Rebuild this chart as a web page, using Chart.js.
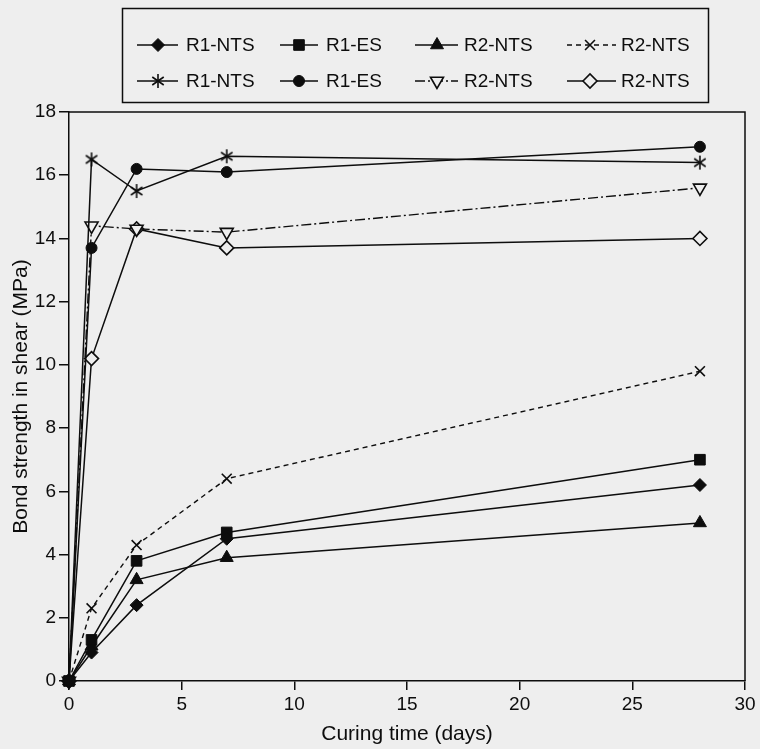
<!DOCTYPE html>
<html>
<head>
<meta charset="utf-8">
<script src="https://cdn.jsdelivr.net/npm/chart.js@4.4.1/dist/chart.umd.min.js"></script>
<style>
  html, body { margin: 0; padding: 0; background: #eeeeee; }
  #wrap { width: 760px; height: 749px; position: relative; }
  canvas { display: block; }
</style>
</head>
<body>
<div id="wrap"><canvas id="c" width="760" height="749" style="width:760px;height:749px"></canvas></div>
<script>
// ---- data ----
const days = [0, 1, 3, 7, 28];
const r1ntsFilledDiamond = [0, 0.9, 2.4, 4.5, 6.2];
const r1esFilledSquare   = [0, 1.3, 3.8, 4.7, 7.0];
const r2ntsFilledTriangle = [0, 1.1, 3.2, 3.9, 5.0];
const r2ntsDashedCross   = [0, 2.3, 4.3, 6.4, 9.8];
const r1ntsStar          = [0, 16.5, 15.5, 16.6, 16.4];
const r1esCircle         = [0, 13.7, 16.2, 16.1, 16.9];
const r2ntsOpenTriangle  = [0, 14.4, 14.3, 14.2, 15.6];
const r2ntsOpenDiamond   = [0, 10.2, 14.3, 13.7, 14.0];
const seriesLabels = ['R1-NTS', 'R1-ES', 'R2-NTS', 'R2-NTS', 'R1-NTS', 'R1-ES', 'R2-NTS', 'R2-NTS'];
const xTickStep = 5, xMin = 0, xMax = 30;
const yTickStep = 2, yMin = 0, yMax = 18;
const xTitle = 'Curing time (days)';
const yTitle = 'Bond strength in shear (MPa)';

// ---- styling ----
const INK = '#0d0d0d';
const PAPER = '#eeeeee';
const FONT = "'Liberation Sans', Arial, Helvetica, sans-serif";

function makeAsterisk(size, lw) {
  const cv = document.createElement('canvas');
  cv.width = size; cv.height = size;
  const g = cv.getContext('2d');
  g.strokeStyle = INK; g.lineWidth = lw; g.lineCap = 'butt';
  const c = size / 2, r = size / 2 - 1;
  [90, 35, 145].forEach(a => {
    const t = a * Math.PI / 180;
    g.beginPath();
    g.moveTo(c - Math.cos(t) * r, c - Math.sin(t) * r);
    g.lineTo(c + Math.cos(t) * r, c + Math.sin(t) * r);
    g.stroke();
  });
  return cv;
}
const asterisk = makeAsterisk(16, 1.6);

function pts(vals) { return days.map((d, i) => ({ x: d, y: vals[i] })); }

function ds(label, vals, o) {
  return Object.assign({
    label: label,
    data: pts(vals),
    borderColor: INK,
    backgroundColor: INK,
    borderWidth: 1.5,
    borderDash: [],
    tension: 0,
    fill: false,
    clip: false,
    pointBackgroundColor: INK,
    pointBorderColor: INK,
    pointBorderWidth: 1,
    pointRadius: 6,
    pointHoverRadius: 6,
    pointRotation: 0
  }, o);
}

const datasets = [
  ds(seriesLabels[0], r1ntsFilledDiamond, { pointStyle: 'rectRot', pointRadius: 6.5 }),
  ds(seriesLabels[1], r1esFilledSquare, { pointStyle: 'rect', pointRadius: 7.5 }),
  ds(seriesLabels[2], r2ntsFilledTriangle, { pointStyle: 'triangle', pointRadius: 7.5 }),
  ds(seriesLabels[3], r2ntsDashedCross, { pointStyle: 'crossRot', pointRadius: 7, pointBorderWidth: 1.6, borderDash: [5, 4], borderWidth: 1.4 }),
  ds(seriesLabels[4], r1ntsStar, { pointStyle: asterisk, pointRadius: 8 }),
  ds(seriesLabels[5], r1esCircle, { pointStyle: 'circle', pointRadius: 5.5 }),
  ds(seriesLabels[6], r2ntsOpenTriangle, { pointStyle: 'triangle', pointRotation: 180, pointRadius: 7.5, pointBackgroundColor: PAPER, pointBorderWidth: 1.6, borderDash: [10, 3, 2, 3], borderWidth: 1.4 }),
  ds(seriesLabels[7], r2ntsOpenDiamond, { pointStyle: 'rectRot', pointRadius: 7, pointBackgroundColor: PAPER, pointBorderWidth: 1.6 })
];

// legend layout (positions only)
const legendBox = { x: 122.5, y: 8.5, w: 586, h: 94 };
const legendRows = [45, 81];
const legendCols = [
  { l: 137, r: 178, m: 158, t: 186 },
  { l: 280, r: 318, m: 299, t: 326 },
  { l: 415, r: 458, m: 437, t: 464 },
  { l: 567, r: 616, m: 590, t: 621 }
];

const legendPlugin = {
  id: 'boxLegend',
  afterDraw(chart) {
    const ctx = chart.ctx;
    ctx.save();
    ctx.strokeStyle = INK; ctx.lineWidth = 1.5; ctx.setLineDash([]);
    ctx.strokeRect(legendBox.x, legendBox.y, legendBox.w, legendBox.h);
    chart.data.datasets.forEach((d, i) => {
      const row = Math.floor(i / 4), col = legendCols[i % 4];
      const y = legendRows[row];
      ctx.save();
      ctx.strokeStyle = INK; ctx.lineWidth = 1.4;
      ctx.setLineDash(d.borderDash || []);
      ctx.beginPath(); ctx.moveTo(col.l, y); ctx.lineTo(col.r, y); ctx.stroke();
      ctx.setLineDash([]);
      ctx.fillStyle = d.pointBackgroundColor; ctx.strokeStyle = d.pointBorderColor;
      ctx.lineWidth = d.pointBorderWidth;
      Chart.helpers.drawPoint(ctx, {
        pointStyle: d.pointStyle, rotation: d.pointRotation,
        radius: d.pointRadius, borderWidth: d.pointBorderWidth
      }, col.m, y);
      ctx.restore();
      ctx.fillStyle = INK;
      ctx.font = "19px " + FONT;
      ctx.textBaseline = 'middle'; ctx.textAlign = 'left';
      ctx.fillText(d.label, col.t, y + 1);
    });
    ctx.restore();
  }
};

const framePlugin = {
  id: 'frame',
  beforeDatasetsDraw(chart) {
    const a = chart.chartArea, ctx = chart.ctx;
    ctx.save();
    ctx.strokeStyle = INK; ctx.lineWidth = 1.5; ctx.setLineDash([]);
    ctx.beginPath();
    ctx.moveTo(a.left, a.top); ctx.lineTo(a.right, a.top); ctx.lineTo(a.right, a.bottom);
    ctx.stroke();
    ctx.restore();
  }
};

new Chart(document.getElementById('c'), {
  type: 'line',
  data: { datasets: datasets },
  plugins: [framePlugin, legendPlugin],
  options: {
    responsive: false,
    animation: false,
    devicePixelRatio: 1,
    layout: { padding: { top: 112, right: 15, bottom: 0, left: 0 } },
    plugins: { legend: { display: false }, tooltip: { enabled: false } },
    scales: {
      x: {
        type: 'linear', min: xMin, max: xMax,
        ticks: { stepSize: xTickStep, color: INK, font: { size: 19, family: FONT }, padding: 3, maxRotation: 0 },
        grid: { drawOnChartArea: false, drawTicks: true, tickLength: 9, color: INK, lineWidth: 1.5 },
        border: { display: true, color: INK, width: 1.5 },
        title: { display: true, text: xTitle, color: INK, font: { size: 21, family: FONT }, padding: { top: 0, bottom: 2 } },
        afterFit(s) { s.height = 68; }
      },
      y: {
        type: 'linear', min: yMin, max: yMax,
        ticks: { stepSize: yTickStep, color: INK, font: { size: 19, family: FONT }, padding: 3 },
        grid: { drawOnChartArea: false, drawTicks: true, tickLength: 10, color: INK, lineWidth: 1.5 },
        border: { display: true, color: INK, width: 1.5 },
        title: { display: true, text: yTitle, color: INK, font: { size: 21, family: FONT }, padding: { top: 9, bottom: 0 } },
        afterFit(s) { s.width = 69; }
      }
    }
  }
});
</script>
</body>
</html>
